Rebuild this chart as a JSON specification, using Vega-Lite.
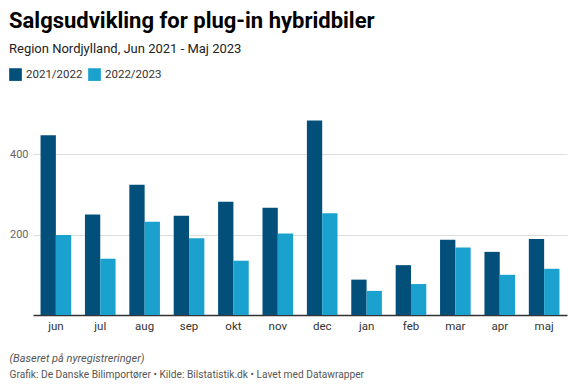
{
  "$schema": "https://vega.github.io/schema/vega-lite/v6.json",
  "background": "white",
  "padding": {"left": 9, "top": 10, "right": 9, "bottom": 6},
  "title": {
    "text": "Salgsudvikling for plug-in hybridbiler",
    "subtitle": "Region Nordjylland, Jun 2021 - Maj 2023",
    "anchor": "start",
    "font": "Roboto",
    "fontSize": 22,
    "fontWeight": "bold",
    "color": "#000000",
    "subtitleFont": "Roboto",
    "subtitleFontSize": 13,
    "subtitleColor": "#222222",
    "subtitlePadding": 10,
    "offset": 11
  },
  "vconcat": [
    {
      "width": 534,
      "height": 201,
      "title": {
        "text": "(Baseret på nyregistreringer)",
        "subtitle": "Grafik: De Danske Bilimportører • Kilde: Bilstatistik.dk • Lavet med Datawrapper",
        "orient": "bottom",
        "anchor": "start",
        "font": "Roboto",
        "fontSize": 11,
        "fontStyle": "italic",
        "fontWeight": "normal",
        "color": "#555555",
        "subtitleFont": "Roboto",
        "subtitleFontSize": 10.2,
        "subtitleColor": "#555555",
        "subtitlePadding": 6,
        "offset": 21
      },
      "data": {
        "values": [
          {"month": "jun", "period": "2021/2022", "value": 447},
          {"month": "jun", "period": "2022/2023", "value": 199},
          {"month": "jul", "period": "2021/2022", "value": 250},
          {"month": "jul", "period": "2022/2023", "value": 140},
          {"month": "aug", "period": "2021/2022", "value": 324},
          {"month": "aug", "period": "2022/2023", "value": 232},
          {"month": "sep", "period": "2021/2022", "value": 247},
          {"month": "sep", "period": "2022/2023", "value": 191},
          {"month": "okt", "period": "2021/2022", "value": 282},
          {"month": "okt", "period": "2022/2023", "value": 135},
          {"month": "nov", "period": "2021/2022", "value": 267},
          {"month": "nov", "period": "2022/2023", "value": 203},
          {"month": "dec", "period": "2021/2022", "value": 484},
          {"month": "dec", "period": "2022/2023", "value": 253},
          {"month": "jan", "period": "2021/2022", "value": 88},
          {"month": "jan", "period": "2022/2023", "value": 60},
          {"month": "feb", "period": "2021/2022", "value": 124},
          {"month": "feb", "period": "2022/2023", "value": 77},
          {"month": "mar", "period": "2021/2022", "value": 187},
          {"month": "mar", "period": "2022/2023", "value": 168},
          {"month": "apr", "period": "2021/2022", "value": 157},
          {"month": "apr", "period": "2022/2023", "value": 100},
          {"month": "maj", "period": "2021/2022", "value": 189},
          {"month": "maj", "period": "2022/2023", "value": 115}
        ]
      },
      "mark": {"type": "bar"},
      "encoding": {
        "x": {
          "field": "month",
          "type": "nominal",
          "sort": ["jun", "jul", "aug", "sep", "okt", "nov", "dec", "jan", "feb", "mar", "apr", "maj"],
          "scale": {"paddingInner": 0.31, "paddingOuter": 0.17},
          "axis": {
            "title": null,
            "labelAngle": 0,
            "labelFont": "Roboto",
            "labelFontSize": 11.5,
            "labelColor": "#333333",
            "labelPadding": 5,
            "ticks": false,
            "domain": true,
            "domainColor": "#333333",
            "domainWidth": 1.5,
            "grid": false
          }
        },
        "xOffset": {
          "field": "period",
          "type": "nominal",
          "sort": ["2021/2022", "2022/2023"],
          "scale": {"paddingInner": 0, "paddingOuter": 0}
        },
        "y": {
          "field": "value",
          "type": "quantitative",
          "scale": {"domain": [0, 500], "nice": false},
          "axis": {
            "title": null,
            "values": [200, 400],
            "grid": true,
            "gridColor": "#dddddd",
            "gridWidth": 1,
            "domain": false,
            "ticks": false,
            "labelFont": "Roboto",
            "labelFontSize": 11,
            "labelColor": "#666666",
            "labelPadding": 5
          }
        },
        "color": {
          "field": "period",
          "type": "nominal",
          "scale": {"domain": ["2021/2022", "2022/2023"], "range": ["#02507a", "#1aa1cd"]},
          "legend": {
            "title": null,
            "orient": "none",
            "legendX": -24,
            "legendY": -46,
            "direction": "horizontal",
            "symbolType": "square",
            "symbolSize": 161,
            "symbolStrokeWidth": 0,
            "symbolOpacity": 1,
            "labelFont": "Roboto",
            "labelFontSize": 11.5,
            "labelColor": "#333333",
            "labelOffset": 4,
            "columnPadding": 5
          }
        }
      }
    }
  ],
  "config": {
    "view": {"stroke": null},
    "font": "Roboto"
  }
}
